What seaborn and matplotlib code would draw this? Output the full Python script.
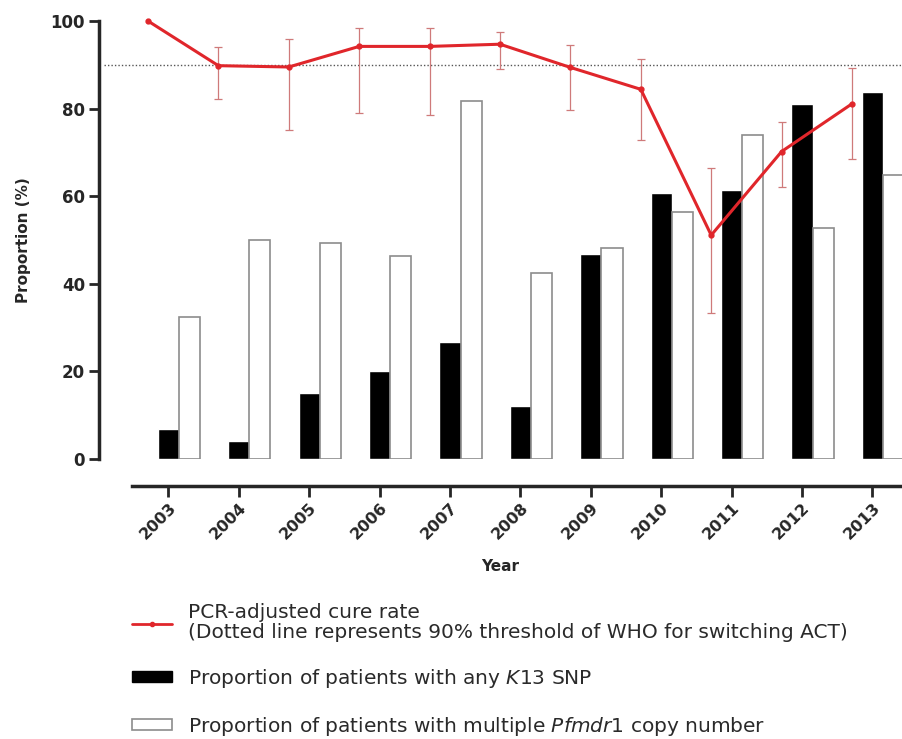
import numpy as np
import pandas as pd
import matplotlib
matplotlib.use('Agg')
import matplotlib.pyplot as plt
import seaborn as sns
from matplotlib.lines import Line2D
from matplotlib.patches import Patch

# values
years = ['2003', '2004', '2005', '2006', '2007', '2008', '2009', '2010', '2011', '2012', '2013']
cure_rate = [100, 89.8, 89.5, 94.2, 94.2, 94.7, 89.4, 84.4, 51.1, 70.2, 81.1]
ci_upper = [100, 94.1, 95.8, 98.5, 98.5, 97.4, 94.6, 91.3, 66.4, 77.0, 89.2]
ci_lower = [100, 82.2, 75.1, 78.9, 78.5, 89.0, 79.7, 72.8, 33.3, 62.0, 68.4]
k13 = [6.8, 4.1, 15.0, 20.2, 26.6, 12.2, 46.8, 60.7, 61.4, 81.1, 83.9]
pfmdr1 = [32.5, 50.0, 49.3, 46.4, 81.8, 42.4, 48.1, 56.3, 74.0, 52.7, 64.8]
who_threshold = 90

sns.set_style('ticks')
plt.rcParams['font.family'] = ['DejaVu Sans']

df = pd.DataFrame({
    'year': years * 2,
    'value': k13 + pfmdr1,
    'series': ['k13'] * len(years) + ['pfmdr1'] * len(years),
})

fig = plt.figure(figsize=(9.02, 7.39), dpi=100)
ax = fig.add_axes([99 / 902, 1 - 459 / 739, (902 - 99) / 902, 438 / 739])

sns.barplot(data=df, x='year', y='value', hue='series', order=years,
            palette={'k13': 'black', 'pfmdr1': 'white'}, width=0.6,
            legend=False, ax=ax)
for p in ax.patches[len(years):]:
    p.set_edgecolor('#8c8c8c')
    p.set_linewidth(1.2)

# cure rate line, drawn a bit left of the bar groups like the original
red = '#e0262b'
pos = np.arange(len(years)) - 0.44
ax.plot(pos, cure_rate, color=red, lw=2.2, marker='o', ms=3.5, zorder=5, clip_on=False)
lo = np.array(cure_rate) - np.array(ci_lower)
hi = np.array(ci_upper) - np.array(cure_rate)
ax.errorbar(pos[1:], cure_rate[1:], yerr=[lo[1:], hi[1:]], fmt='none',
            ecolor='#cf7a7a', elinewidth=0.9, capsize=3, capthick=0.9, zorder=4)

ax.hlines(who_threshold, -1.07, 10.3, colors='#555555', linestyles=(0, (1, 1.5)),
          lw=1, zorder=3)

sns.despine(ax=ax)
ax.spines['left'].set_linewidth(2.5)
ax.spines['left'].set_bounds(0, 100)
ax.spines['bottom'].set_linewidth(2.5)
ax.spines['bottom'].set_position(('outward', 19.5))
ax.spines['bottom'].set_bounds(-0.667, 10.27)

ax.set_xlim(-1.136, 10.27)
ax.set_ylim(0, 100)
ax.set_yticks([0, 20, 40, 60, 80, 100])
ax.set_xticks(np.arange(len(years)) - 0.15, years)
ax.tick_params(axis='y', labelsize=12, width=2, length=7, pad=3)
ax.tick_params(axis='x', labelsize=11.5, width=2, length=8, pad=2)
for lab in ax.get_yticklabels():
    lab.set_fontweight('bold')
for lab in ax.get_xticklabels():
    lab.set_fontweight('bold')
    lab.set_rotation(45)
    lab.set_ha('right')
    lab.set_va('top')
    lab.set_rotation_mode('anchor')

ax.set_ylabel('Proportion (%)', fontsize=11, fontweight='bold', labelpad=14)
ax.set_xlabel('Year', fontsize=11, fontweight='bold', labelpad=12)

handles = [
    Line2D([], [], color=red, lw=2, marker='o', ms=3),
    Patch(facecolor='black', edgecolor='black'),
    Patch(facecolor='white', edgecolor='#8c8c8c', lw=1.2),
]
labels = [
    'PCR-adjusted cure rate\n(Dotted line represents 90% threshold of WHO for switching ACT)',
    'Proportion of patients with any $\\it{K13}$ SNP',
    'Proportion of patients with multiple $\\it{Pfmdr1}$ copy number',
]
leg = fig.legend(handles, labels, loc='upper left', bbox_to_anchor=(122 / 902, 1 - 593 / 739),
                 frameon=False, fontsize=14.5, labelspacing=1.24, handlelength=2.0,
                 handleheight=0.5, handletextpad=0.8, borderpad=0, labelcolor='#2a2a2a')
leg.get_texts()[0].set_linespacing(1.05)

fig.savefig('out.png', dpi=100)
